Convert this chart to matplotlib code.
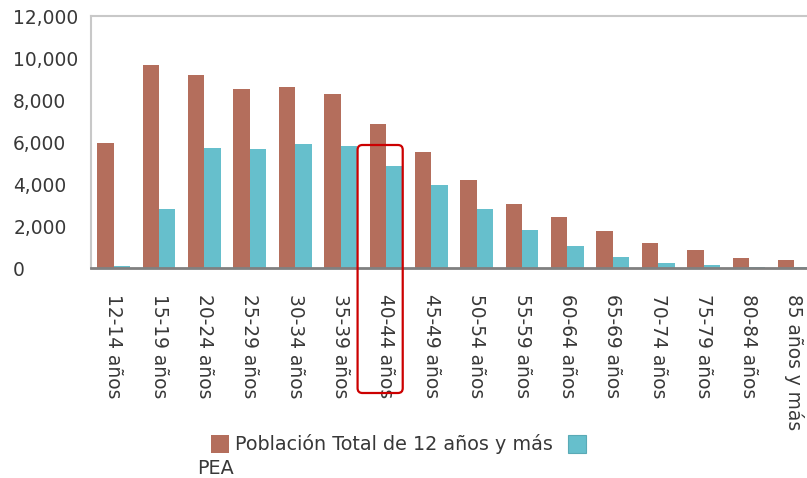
import matplotlib
matplotlib.use("Agg")
import matplotlib.pyplot as plt
from matplotlib.patches import FancyBboxPatch, Rectangle
from matplotlib.ticker import FuncFormatter
import numpy as np

categories = ["12-14 años", "15-19 años", "20-24 años", "25-29 años", "30-34 años",
              "35-39 años", "40-44 años", "45-49 años", "50-54 años", "55-59 años",
              "60-64 años", "65-69 años", "70-74 años", "75-79 años", "80-84 años",
              "85 años y más"]
poblacion_total = [5950, 9670, 9200, 8520, 8620, 8290, 6860, 5540, 4190, 3050,
                   2410, 1780, 1180, 860, 490, 380]
pea = [90, 2800, 5730, 5650, 5890, 5820, 4860, 3950, 2790, 1810,
       1060, 510, 250, 130, 50, 30]
series_names = ["Población Total de 12 años y más", "PEA"]
yticks = [0, 2000, 4000, 6000, 8000, 10000, 12000]
highlight = "40-44 años"

BROWN = "#B46E5C"
TEAL = "#66BFCC"
TXT = "#383838"
FS = 13.4

W, H = 807, 478
fig = plt.figure(figsize=(W / 100, H / 100), dpi=100)
plt.rcParams['font.family'] = ['DejaVu Sans']

left, right, top, bottom = 91, 817, 16, 268
ax = fig.add_axes([left / W, (H - bottom) / H, (right - left) / W, (bottom - top) / H])

x = np.arange(len(categories))
bw = 0.36
ax.bar(x - bw / 2, poblacion_total, width=bw, color=BROWN, linewidth=0)
ax.bar(x + bw / 2, pea, width=bw, color=TEAL, linewidth=0)

ax.set_xlim(-0.5, len(categories) - 0.5)
ax.set_ylim(0, 12000)
ax.set_yticks(yticks)
ax.yaxis.set_major_formatter(FuncFormatter(lambda v, p: f"{int(v):,}"))
ax.tick_params(axis='y', length=0, pad=56, labelsize=FS, labelcolor=TXT)
for lab in ax.get_yticklabels():
    lab.set_horizontalalignment('left')

ax.set_xticks(x)
ax.set_xticklabels(categories, rotation=-90, va='top', ha='center')
ax.tick_params(axis='x', length=0, pad=19, labelsize=FS, labelcolor=TXT)

for s in ['left', 'top']:
    ax.spines[s].set_color('#c8c8c8')
    ax.spines[s].set_linewidth(1.5)
ax.spines['right'].set_visible(False)
ax.spines['bottom'].set_color('#808080')
ax.spines['bottom'].set_linewidth(2)

# highlight box around the selected category
fig.canvas.draw()
idx = categories.index(highlight)
to_fig = fig.transFigure.inverted()
(x0, _), = to_fig.transform(ax.transData.transform([(idx - 0.625, 0)]))
(x1, _), = to_fig.transform(ax.transData.transform([(idx + 0.37, 0)]))
y_top = (H - 145) / H
y_bot = (H - 393) / H
box = FancyBboxPatch((x0, y_bot), x1 - x0, y_top - y_bot,
                     boxstyle="round,pad=0,rounding_size=0.006",
                     mutation_aspect=W / H, transform=fig.transFigure,
                     fill=False, edgecolor="#CC0000", linewidth=1.6, clip_on=False)
fig.add_artist(box)

# legend (wrapping as in the original)
sq = 18
LFS = 13.8
fig.add_artist(Rectangle((211 / W, (H - 453) / H), sq / W, sq / H, transform=fig.transFigure,
                         facecolor=BROWN, edgecolor='none'))
fig.text(235 / W, (H - 444) / H, series_names[0], fontsize=LFS, color=TXT, va='center', ha='left')
fig.add_artist(Rectangle((568 / W, (H - 453) / H), sq / W, sq / H, transform=fig.transFigure,
                         facecolor=TEAL, edgecolor='#5aaab6', linewidth=0.8))
fig.text(197 / W, (H - 468) / H, series_names[1], fontsize=LFS, color=TXT, va='center', ha='left')

fig.savefig("out.png", dpi=100)
